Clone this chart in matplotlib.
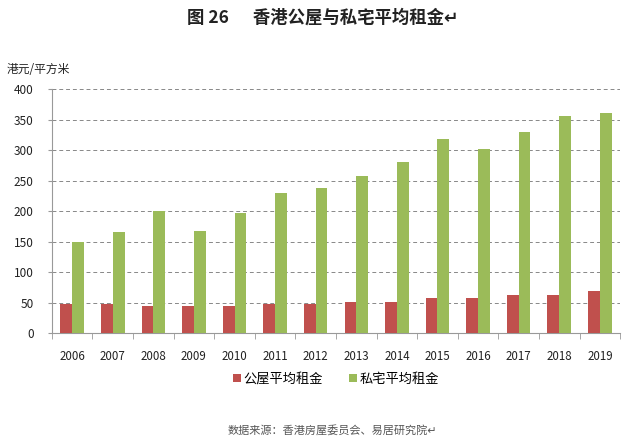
import matplotlib.pyplot as plt
import numpy as np

plt.rcParams['font.family'] = ['Noto Sans CJK SC', 'DejaVu Sans']

years = ['2006', '2007', '2008', '2009', '2010', '2011', '2012',
         '2013', '2014', '2015', '2016', '2017', '2018', '2019']
public_rent = [48, 48, 44, 44, 44, 47, 47, 51, 51, 57, 57, 63, 63, 69]
private_rent = [150, 165, 200, 167, 197, 229, 237, 257, 281, 318, 302, 329, 356, 360]

red = '#C0504D'
green = '#9BBB59'

fig = plt.figure(figsize=(6.4, 4.42), dpi=100)
ax = fig.add_axes([0.081, 0.2466, 0.888, 0.552])

x = np.arange(len(years))
w = 0.29
ax.bar(x - w / 2, public_rent, width=w, color=red, label='公屋平均租金', zorder=3)
ax.bar(x + w / 2, private_rent, width=w, color=green, label='私宅平均租金', zorder=3)

ax.set_xlim(-0.5, len(years) - 0.5)
ax.set_ylim(0, 400)
ax.set_yticks(range(0, 401, 50))
ax.set_xticks(x)
ax.set_xticklabels(years)
ax.set_xticks(np.arange(-0.5, len(years), 1), minor=True)
ax.tick_params(axis='x', which='major', length=0, pad=12, labelsize=8.3, colors='#222222')
ax.tick_params(axis='x', which='minor', length=4, color='#999999', direction='out')
ax.tick_params(axis='y', length=3, color='#999999', pad=10, labelsize=8.5, labelcolor='#222222')

ax.grid(axis='y', linestyle=(0, (4, 3)), color='#888888', linewidth=0.7, zorder=0)
for s in ['top', 'right']:
    ax.spines[s].set_visible(False)
ax.spines['left'].set_color('#999999')
ax.spines['bottom'].set_color('#999999')

fig.text(0.01, 0.835, '港元/平方米', fontsize=8.5, color='#222222')

fig.text(0.505, 0.96, '图 26      香港公屋与私宅平均租金↵', ha='center', va='center',
         fontsize=12.5, fontweight='bold', color='#222222')

ax.legend(loc='upper center', bbox_to_anchor=(0.5, -0.115), ncol=2, frameon=False,
          fontsize=9.5, handlelength=0.6, handleheight=0.6, handletextpad=0.2,
          columnspacing=2.0)

fig.text(0.52, 0.027, '数据来源：香港房屋委员会、易居研究院↵', ha='center', va='center',
         fontsize=8, color='#555555')

plt.savefig('out.png', dpi=100)
